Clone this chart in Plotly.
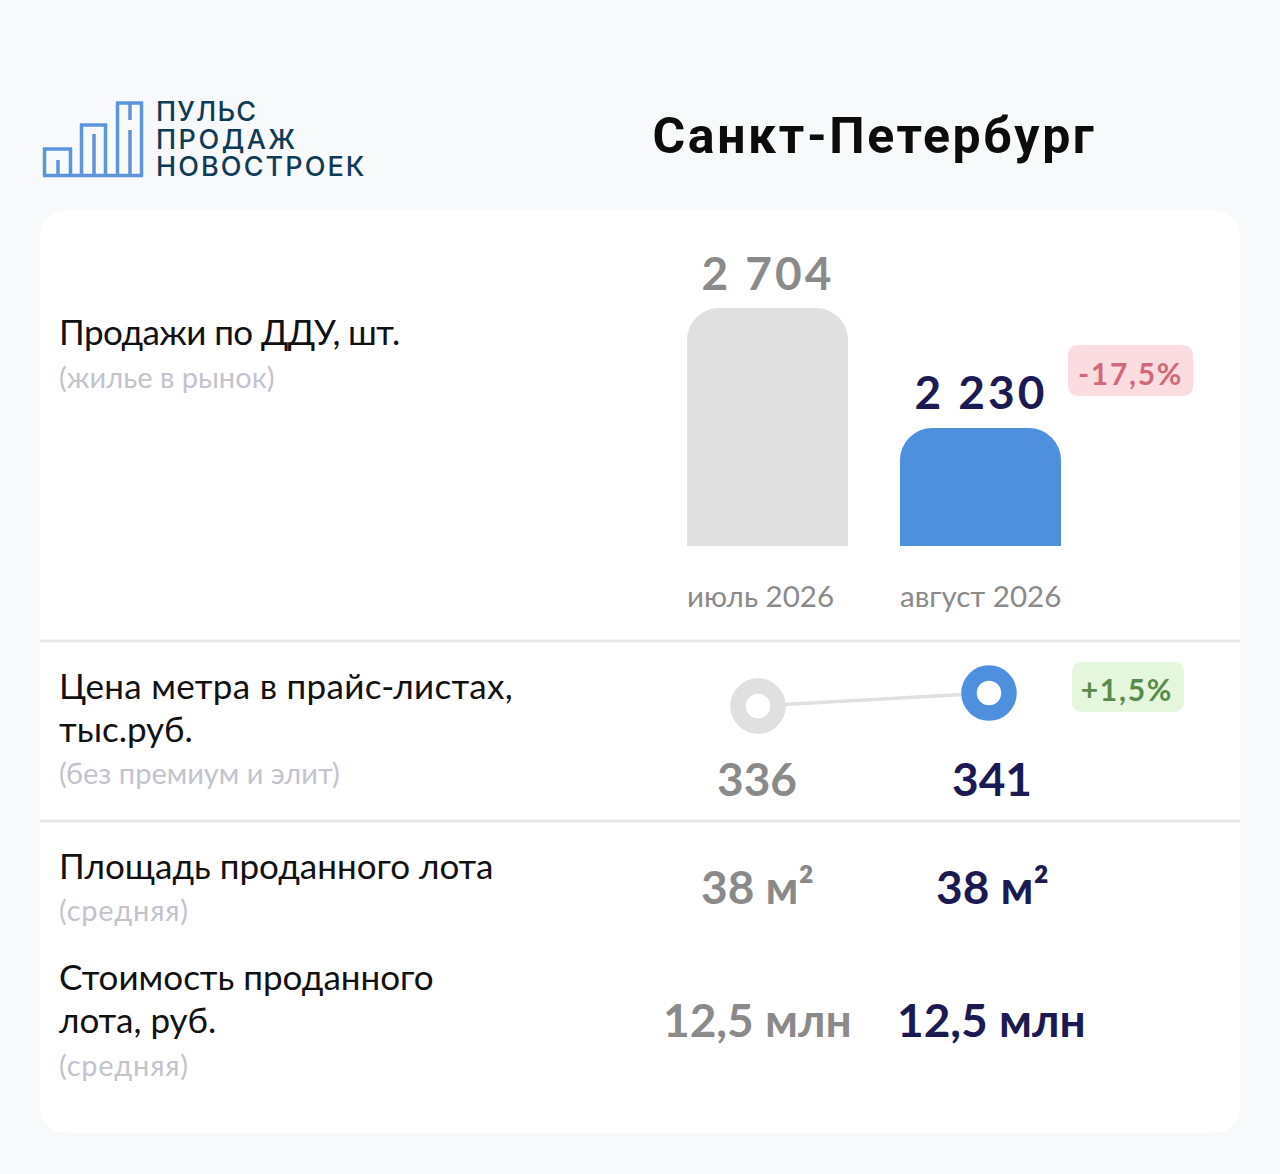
# -*- coding: utf-8 -*-
import plotly.graph_objects as go

W = 1280
H = 1174

#%% Данные
months = ['июль 2026', 'август 2026']
sales = [2704, 2230]
sales_labels = ['2 704', '2 230']
sales_change = '-17,5%'

price = [336, 341]
price_change = '+1,5%'

area_labels = ['38 м²', '38 м²']
cost_labels = ['12,5 млн', '12,5 млн']

GREY_TXT = '#8a8a8a'
NAVY = '#1c1a52'
BLUE = '#4f90de'
LIGHT = '#e0e0e0'
SUB = '#c3c3cd'
BLACK = '#111111'
FONT = 'Lato, Carlito, sans-serif'


#%% Пиксели в координаты paper
def px(x):
    return x / W


def py(y):
    return 1 - y / H


def rounded(x0, y0, x1, y1, r, color):
    path = (f'M {px(x0 + r)} {py(y0)} L {px(x1 - r)} {py(y0)} '
            f'Q {px(x1)} {py(y0)} {px(x1)} {py(y0 + r)} L {px(x1)} {py(y1 - r)} '
            f'Q {px(x1)} {py(y1)} {px(x1 - r)} {py(y1)} L {px(x0 + r)} {py(y1)} '
            f'Q {px(x0)} {py(y1)} {px(x0)} {py(y1 - r)} L {px(x0)} {py(y0 + r)} '
            f'Q {px(x0)} {py(y0)} {px(x0 + r)} {py(y0)} Z')
    return dict(type='path', xref='paper', yref='paper', path=path,
                fillcolor=color, line_width=0, layer='below')


def line(x0, y0, x1, y1, color, width):
    return dict(type='line', xref='paper', yref='paper', x0=px(x0), y0=py(y0),
                x1=px(x1), y1=py(y1), line=dict(color=color, width=width), layer='below')


def text(x, y, s, size, color, bold=False, anchor='left', family=FONT, weight=None):
    if bold:
        s = '<b>' + s + '</b>'
    font = dict(family=family, size=size, color=color)
    if weight:
        font['weight'] = weight
    return dict(xref='paper', yref='paper', x=px(x), y=py(y), text=s, showarrow=False,
                xanchor=anchor, yanchor='middle', align=anchor, borderpad=0, font=font)


#%% Графики
fig = go.Figure()

fig.add_trace(go.Bar(x=months, y=sales, marker=dict(color=[LIGHT, BLUE], cornerradius=32, line_width=0),
                     hoverinfo='skip', xaxis='x', yaxis='y'))

fig.add_trace(go.Scatter(x=months, y=price, mode='lines', line=dict(color=LIGHT, width=3.5),
                         hoverinfo='skip', xaxis='x2', yaxis='y2', cliponaxis=False))
fig.add_trace(go.Scatter(x=months, y=price, mode='markers',
                         marker=dict(size=40, color='white', line=dict(color=[LIGHT, BLUE], width=15.5)),
                         hoverinfo='skip', xaxis='x2', yaxis='y2', cliponaxis=False))

#%% Фон и логотип
LOGO = '#5b95dc'
LW = 3.5
shapes = [
    rounded(40, 210, 1240, 1133, 30, 'white'),
    line(40, 641, 1240, 641, '#e6e6e6', 3),
    line(40, 821, 1240, 821, '#e6e6e6', 3),
    rounded(1068, 345, 1193, 396, 11, '#fbdde1'),
    rounded(1072, 662, 1184, 712, 11, '#e4f7dc'),
    # логотип
    line(43, 175.5, 143, 175.5, LOGO, LW),
    line(44.5, 176, 44.5, 148, LOGO, LW),
    line(43, 149, 72, 149, LOGO, LW),
    line(70.5, 176, 70.5, 148, LOGO, LW),
    line(58, 177, 58, 160, LOGO, LW),
    line(81.5, 176, 81.5, 124, LOGO, LW),
    line(80, 125, 107, 125, LOGO, LW),
    line(105.5, 176, 105.5, 124, LOGO, LW),
    line(94, 177, 94, 134, LOGO, LW),
    line(117.5, 176, 117.5, 102, LOGO, LW),
    line(116, 103, 143, 103, LOGO, LW),
    line(141.5, 176, 141.5, 102, LOGO, LW),
    line(130, 102, 130, 120, LOGO, LW),
    line(130, 130, 130, 177, LOGO, LW),
]

#%% Тексты
LOGO_TXT = '#0f3b57'
annotations = [
    text(155, 112, 'ПУЛЬС', 27, LOGO_TXT, family='Inter', weight=500),
    text(155, 139, 'ПРОДАЖ', 27, LOGO_TXT, family='Inter', weight=500),
    text(155, 166, 'НОВОСТРОЕК', 27, LOGO_TXT, family='Inter', weight=500),
    text(874, 136, 'Санкт-Петербург', 50, '#0c0c0c', True, 'center', family='Roboto'),
    text(58, 331, 'Продажи по ДДУ, шт.', 35, BLACK),
    text(58, 376, '(жилье в рынок)', 29, SUB),
    text(58, 685, 'Цена метра в прайс-листах,', 35, BLACK),
    text(58, 728, 'тыс.руб.', 35, BLACK),
    text(58, 772, '(без премиум и элит)', 29, SUB),
    text(58, 865, 'Площадь проданного лота', 35, BLACK),
    text(58, 909, '(средняя)', 29, SUB),
    text(58, 976, 'Стоимость проданного', 35, BLACK),
    text(58, 1019, 'лота, руб.', 35, BLACK),
    text(58, 1064, '(средняя)', 29, SUB),
    text(1130, 373, '<b>' + sales_change + '</b>', 30, '#d2697a', anchor='center'),
    text(1127, 689, '<b>' + price_change + '</b>', 30, '#5a8a4a', anchor='center'),
]

colors = [GREY_TXT, NAVY]
label_shift = [35, 37]
col_shift = [-1, 3]
for i in range(2):
    annotations.append(dict(xref='x', yref='y', x=months[i], y=sales[i], yshift=label_shift[i],
                            text='<b>' + sales_labels[i] + '</b>', showarrow=False,
                            font=dict(family=FONT, size=46, color=colors[i])))
    annotations.append(dict(xref='x', yref='paper', x=months[i], y=py(596), xshift=-83, xanchor='left',
                            yanchor='middle', text=months[i], showarrow=False,
                            font=dict(family=FONT, size=29.5, color=GREY_TXT)))
    annotations.append(dict(xref='x2', yref='paper', x=months[i], y=py(778), xshift=col_shift[i],
                            yanchor='middle', text='<b>' + str(price[i]) + '</b>', showarrow=False,
                            font=dict(family=FONT, size=46, color=colors[i])))
    annotations.append(dict(xref='x2', yref='paper', x=months[i], y=py(886), xshift=col_shift[i],
                            yanchor='middle', text='<b>' + area_labels[i] + '</b>',
                            showarrow=False, font=dict(family=FONT, size=46, color=colors[i])))
    annotations.append(dict(xref='x2', yref='paper', x=months[i], y=py(1019), xshift=col_shift[i] * 0.7,
                            yanchor='middle', text='<b>' + cost_labels[i] + '</b>', showarrow=False,
                            font=dict(family=FONT, size=46, color=colors[i])))

fig.update_layout(
    width=W, height=H, margin=dict(l=0, r=0, t=0, b=0, pad=0),
    paper_bgcolor='#f7f9fb', plot_bgcolor='rgba(0,0,0,0)',
    showlegend=False, bargap=0.244,
    shapes=shapes, annotations=annotations,
    xaxis=dict(domain=[px(661), px(1087)], visible=False, type='category'),
    yaxis=dict(domain=[py(546), py(250)], range=[1764, 2933], visible=False),
    xaxis2=dict(domain=[px(642.5), px(1104.5)], range=[-0.5, 1.5], visible=False, type='category', anchor='y2'),
    yaxis2=dict(domain=[py(750), py(650)], range=[319.08, 357.54], visible=False, anchor='x2'),
)

# разрядка букв, в plotly её нет
spacing = """
document.body.style.margin='0';
var sp = {'ПУЛЬС': 1.2, 'ПРОДАЖ': 2.5, 'НОВОСТРОЕК': 2.1, 'Санкт-Петербург': 2.6,
          '2 704': 3, '2 230': 3, '-17,5%': 1.7, '+1,5%': 1.7,
          'Продажи по ДДУ, шт.': -0.6, 'Цена метра в прайс-листах,': 0.3, '(средняя)': 0.8};
document.querySelectorAll('.annotation-text').forEach(function (t) {
    var k = t.textContent;
    if (sp[k]) { t.style.letterSpacing = sp[k] + 'px'; }
});
"""
fig.write_html("out.html", post_script=spacing, config=dict(displayModeBar=False))
